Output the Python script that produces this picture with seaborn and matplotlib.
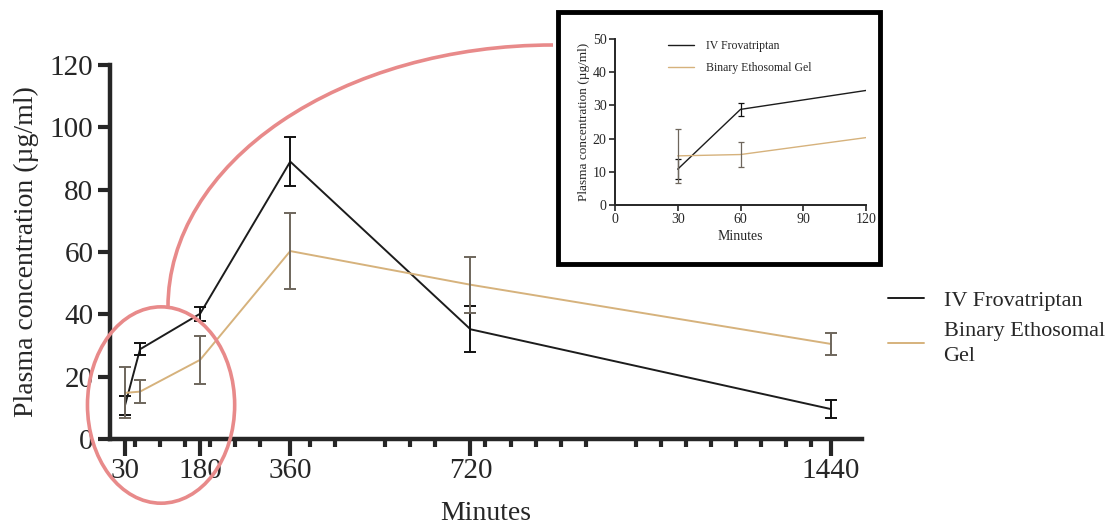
import numpy as np
import pandas as pd
import matplotlib
matplotlib.use('Agg')
import matplotlib.pyplot as plt
from matplotlib.patches import Ellipse, Arc, Rectangle
import seaborn as sns


# plasma concentration (mean +- SD)
minutes = [30, 60, 180, 360, 720, 1440]
iv_mean = [10.8, 28.8, 40.2, 89.0, 35.2, 9.6]
iv_sd = [3.0, 2.0, 2.3, 7.9, 7.4, 3.0]
gel_mean = [14.8, 15.2, 25.4, 60.3, 49.5, 30.5]
gel_sd = [8.2, 3.8, 7.8, 12.2, 9.0, 3.6]

series_names = ['IV Frovatriptan', 'Binary Ethosomal Gel']
main_ticks = [30, 180, 360, 720, 1440]
inset_ticks = [0, 30, 60, 90, 120]

farben = {'IV Frovatriptan': '#1c1c1c', 'Binary Ethosomal Gel': '#d6b27c'}
fehler_farben = {'IV Frovatriptan': '#111111', 'Binary Ethosomal Gel': '#6e665c'}


def baue_tabelle():
    df = pd.DataFrame({
        'Minutes': minutes * 2,
        'conc': iv_mean + gel_mean,
        'sd': iv_sd + gel_sd,
        'group': [series_names[0]] * len(minutes) + [series_names[1]] * len(minutes),
    })
    return df


def zeichne(ax, df, lw, capsize, elw):
    sns.lineplot(data=df, x='Minutes', y='conc', hue='group', hue_order=series_names,
                 palette=farben, linewidth=lw, ax=ax, legend=True, errorbar=None)
    for name in series_names:
        sub = df[df['group'] == name]
        ax.errorbar(sub['Minutes'], sub['conc'], yerr=sub['sd'], fmt='none',
                    ecolor=fehler_farben[name], elinewidth=elw, capsize=capsize,
                    capthick=elw, zorder=3)


sns.set_style('ticks')
plt.rcParams['font.family'] = ['Liberation Serif', 'DejaVu Serif']

df = baue_tabelle()
W, H = 1113, 527
fig = plt.figure(figsize=(W / 100, H / 100), dpi=100)

# main plot
ax = fig.add_axes([110 / W, 1 - 439 / H, (862 - 110) / W, (439 - 65) / H])
zeichne(ax, df, lw=1.4, capsize=4.5, elw=1.4)
handles, _ = ax.get_legend_handles_labels()
ax.get_legend().remove()
ax.set_xlim(0, 1502)
ax.set_ylim(0, 120)
ax.set_xticks(main_ticks)
ax.set_xticks([50, 100, 150, 200, 250, 300, 400, 450, 550, 600, 650, 750, 800, 850,
               900, 950, 1050, 1100, 1150, 1200, 1250, 1300, 1350, 1400], minor=True)
ax.set_yticks(range(0, 121, 20))
ax.tick_params(axis='both', which='major', labelsize=21, length=9, width=3, direction='out', pad=3)
ax.tick_params(axis='x', which='minor', length=6, width=3, direction='out')
ax.tick_params(axis='x', which='major', length=12, pad=2)
for s in ['left', 'bottom']:
    ax.spines[s].set_linewidth(3.2)
for s in ['top', 'right']:
    ax.spines[s].set_visible(False)
ax.set_xlabel('Minutes', fontsize=20, labelpad=12)
ax.set_ylabel('Plasma concentration (µg/ml)', fontsize=20, labelpad=8)
ax.patch.set_alpha(0)

leg = fig.legend(handles, ['IV Frovatriptan', 'Binary Ethosomal\nGel'], loc='upper left',
                 bbox_to_anchor=(868 / W, 1 - 270 / H), frameon=False, fontsize=16,
                 handlelength=1.6, handletextpad=0.9, labelspacing=0.5)
for t in leg.get_texts():
    t.set_linespacing(1.45)

# zoom circle and connector
kreis = Ellipse((102, 10.9), 294, 63, fill=False, ec='#e88a8a', lw=2.6, clip_on=False, zorder=5)
ax.add_patch(kreis)
bogen = Arc((553 / W, 1 - 307 / H), 2 * 385 / W, 2 * 262 / H, theta1=90, theta2=180,
            transform=fig.transFigure, ec='#e88a8a', lw=2.6, zorder=1)
fig.patches.append(bogen)

# inset
ax_in = fig.add_axes([615 / W, 1 - 205 / H, 251 / W, 166 / H])
ax_in.set_zorder(2)
rahmen = Rectangle((558 / W, 1 - 264 / H), (880 - 558) / W, (264 - 12) / H,
                   transform=fig.transFigure, fill=False, ec='black', lw=3.5, zorder=3)
fig.patches.append(rahmen)
zeichne(ax_in, df, lw=1.0, capsize=2.2, elw=0.9)
h_in, _ = ax_in.get_legend_handles_labels()
ax_in.get_legend().remove()
ax_in.set_xlim(0, 120)
ax_in.set_ylim(0, 50)
ax_in.set_xticks(inset_ticks)
ax_in.set_yticks(range(0, 51, 10))
ax_in.tick_params(axis='both', labelsize=10, length=4, width=1.2, pad=2)
for s in ['left', 'bottom']:
    ax_in.spines[s].set_linewidth(1.4)
for s in ['top', 'right']:
    ax_in.spines[s].set_visible(False)
ax_in.set_xlabel('Minutes', fontsize=10, labelpad=3)
ax_in.set_ylabel('Plasma concentration (µg/ml)', fontsize=9.5, labelpad=2)
ax_in.legend(h_in, series_names, loc='upper left', bbox_to_anchor=(0.17, 1.06), frameon=False,
             fontsize=8.5, handlelength=2.2, handletextpad=1.0, labelspacing=0.9)

fig.savefig('out.png', dpi=100)
